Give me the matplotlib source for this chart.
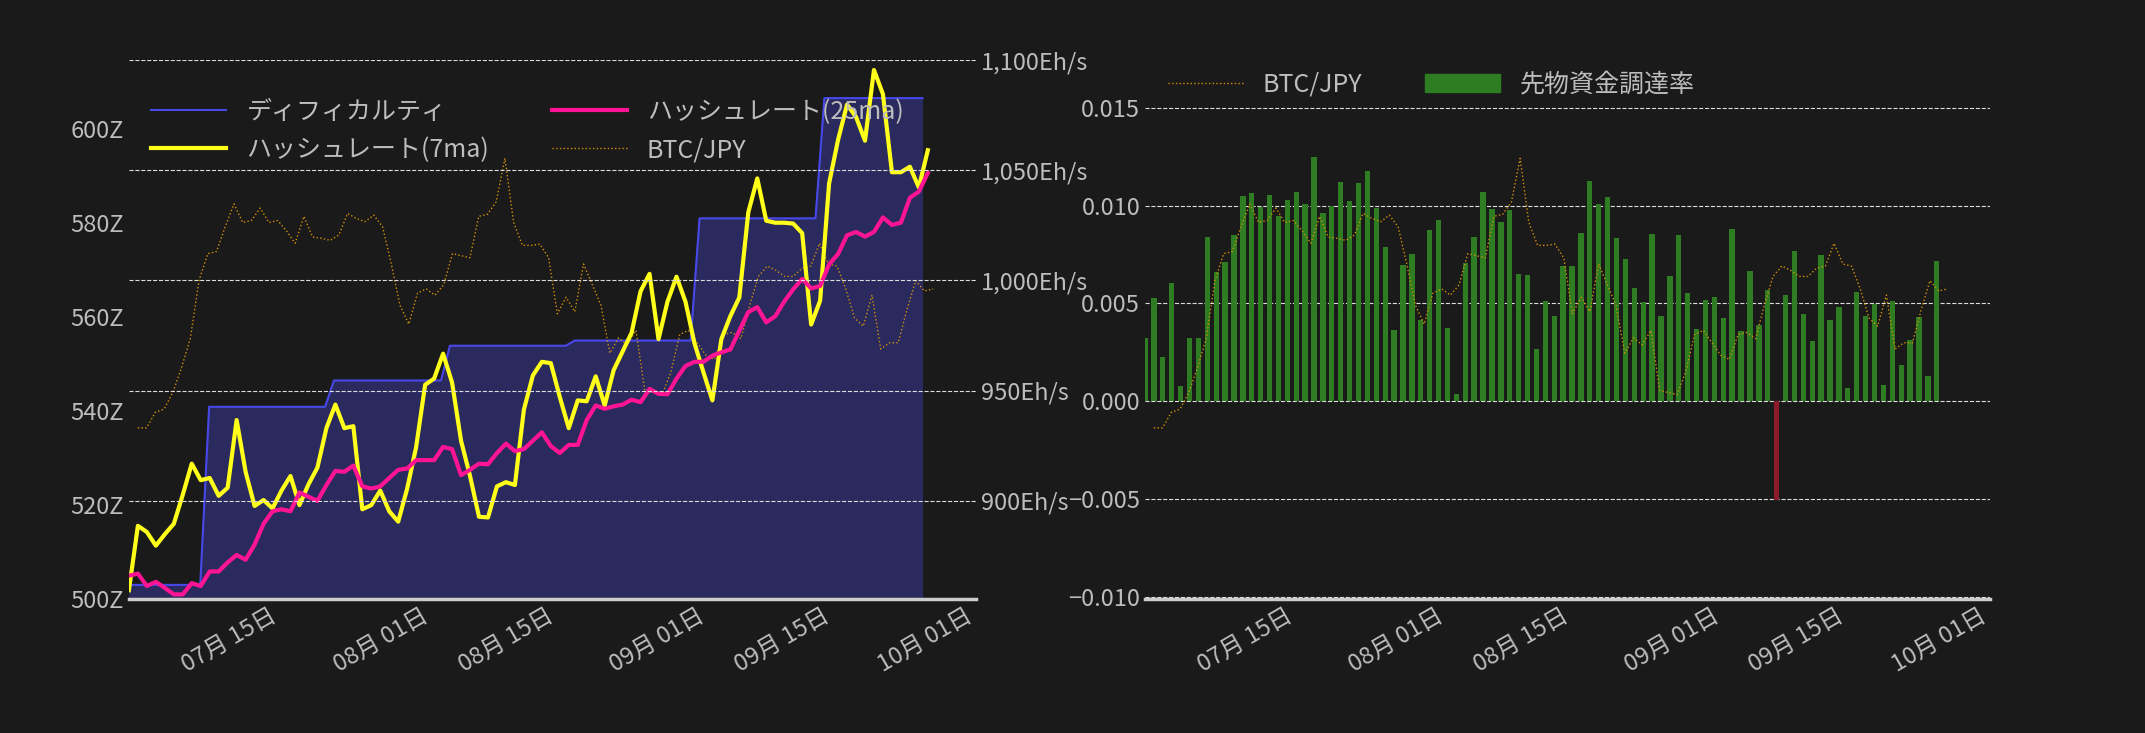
import numpy as np
import pandas as pd
import matplotlib
matplotlib.use("Agg")
import matplotlib.pyplot as plt
import matplotlib.dates as mdates

plt.rcParams['font.family'] = ['Noto Sans CJK JP', 'DejaVu Sans']

# ---------------- data ----------------
start = "2024-06-28"
difficulty_Z = [503]*9 + [540.9]*14 + [546.5]*13 + [553.9]*14 + [555]*14 + [581]*14 + [606.6]*12

hash_7ma = [859.5, 888.7, 885.9, 879.7, 884.9, 889.6, 902.8, 916.9, 909.4, 910.4, 902.3, 906.0, 936.7,
            913.2, 897.7, 900.4, 896.6, 904.7, 911.3, 898.1, 907.5, 915.1, 933, 943.7, 933, 933.9, 896.2,
            898.1, 904.7, 895.3, 890.6, 905.6, 924.5, 952.7, 955.5, 966.8, 953.7, 927.3, 911.3, 892.8, 892.5,
            906.6, 908.5, 907.2, 941.4, 956.9, 963.1, 962.5, 947.1, 933, 945.6, 945.2, 956.5, 943.3, 959.3,
            967.8, 976.3, 995.1, 1003, 973.4, 990.4, 1001.7, 990.4, 971.6, 958.4, 945.6, 973.4, 983.8, 992.3,
            1030.9, 1046.3, 1027.1, 1026.2, 1026.2, 1025.8, 1021.5, 980, 990.8, 1044, 1063.8, 1079.8, 1074.2,
            1063.4, 1095.5, 1084.5, 1049.1, 1049.1, 1051.6, 1042.2, 1059.1]

hash_25ma = [866.1, 867, 861.4, 863.3, 860.5, 857.6, 857.6, 862.7, 861.4, 868, 868, 872.1, 875.5, 873.3,
             880.2, 889.6, 895.3, 896.2, 895.3, 903.8, 901.9, 900, 907.2, 913.6, 913.2, 916, 906.6, 905.6,
             906.6, 910.4, 914.1, 914.7, 918.5, 918.5, 918.5, 924.5, 923.5, 911.7, 914.1, 916.9, 916.6, 921.7,
             926, 922.6, 923.5, 927.3, 931.1, 924.9, 921.7, 925.4, 925.4, 936.7, 943.3, 941.8, 942.9, 943.7,
             945.9, 944.8, 950.8, 948.6, 948.4, 955.5, 961.2, 963.1, 963.1, 965.9, 967.4, 968.7, 977.2, 985.7,
             987.9, 981, 983.8, 990.4, 996, 1000.7, 996.4, 997.5, 1007.3, 1012, 1020.5, 1022, 1019.9, 1022,
             1028.6, 1025.2, 1026.2, 1037.5, 1040.3, 1048.8]

btc_jpy_man = [725, 725, 743.5, 747.5, 767.5, 797.5, 832.5, 902.5, 935, 937.5, 967.5, 995, 972.5, 975, 990,
               972.5, 975, 962.5, 947.5, 980, 955, 953.5, 951, 957.5, 983.5, 977.5, 973.5, 981.5, 967.5, 922.5,
               872.5, 850, 887.5, 892.5, 885, 897.5, 935, 932.5, 930, 980, 982.5, 997.5, 1050, 972.5, 945, 945,
               946.5, 930, 862.5, 882.5, 865, 922.5, 897.5, 872.5, 815, 833.5, 825, 842.5, 770, 767.5, 765,
               792.5, 837.5, 842.5, 827.5, 812.5, 807.5, 837.5, 840, 832.5, 872.5, 907.5, 920, 915, 907.5,
               907.5, 917.5, 920, 947.5, 922.5, 920, 892.5, 857.5, 847.5, 885, 820, 827.5, 827.5, 867.5,
               902.5, 890, 892.5]

funding_rate = [0.00324, 0.00528, 0.00225, 0.00604, 0.00076, 0.00324, 0.00324, 0.00839, 0.00659, 0.0071,
                0.0085, 0.01049, 0.01064, 0.00994, 0.01053, 0.00945, 0.01028, 0.01068, 0.01006, 0.01248,
                0.00962, 0.00998, 0.01119, 0.01023, 0.01114, 0.01176, 0.00987, 0.00788, 0.00362, 0.00695,
                0.00752, 0.00415, 0.00875, 0.00926, 0.00373, 0.0004, 0.00706, 0.00839, 0.01068, 0.00983,
                0.00917, 0.00977, 0.0065, 0.00644, 0.00267, 0.00511, 0.00434, 0.00691, 0.00691, 0.00858,
                0.01125, 0.01008, 0.01042, 0.00833, 0.00727, 0.00578, 0.00506, 0.00854, 0.00434, 0.0064,
                0.0085, 0.00553, 0.00369, 0.00517, 0.00532, 0.00426, 0.00879, 0.00358, 0.00665, 0.00388,
                0.00568, -0.00502, 0.00542, 0.00767, 0.00447, 0.00309, 0.00748, 0.00415, 0.00483, 0.0007,
                0.00557, 0.00436, 0.00496, 0.00081, 0.00511, 0.00186, 0.00314, 0.00432, 0.00129, 0.00716]

xticks = ["2024-07-15", "2024-08-01", "2024-08-15", "2024-09-01", "2024-09-15", "2024-10-01"]

def dates(n, span_days=89.6):
    s = pd.Timestamp(start)
    return [s + pd.Timedelta(days=span_days * i / (n - 1)) for i in range(n)]

d_diff = pd.date_range(start, periods=len(difficulty_Z), freq="D")
d_h7 = dates(len(hash_7ma))
d_h25 = dates(len(hash_25ma))
d_btc = dates(len(btc_jpy_man), 89.2)
d_btc = [d + pd.Timedelta(days=1) for d in d_btc]
d_fr = pd.date_range(start, periods=len(funding_rate), freq="D")

BG = "#1a1a1a"
TXT = "#bdbdbd"
xlim = (pd.Timestamp("2024-06-28"), pd.Timestamp("2024-10-01"))

fig = plt.figure(figsize=(21.45, 7.33), dpi=100, facecolor=BG)

def style(ax):
    ax.set_facecolor("none")
    for s in ("top", "left", "right"):
        ax.spines[s].set_visible(False)
    ax.spines["bottom"].set_color("#cccccc")
    ax.spines["bottom"].set_linewidth(2.5)
    ax.tick_params(axis="both", length=0, colors=TXT, labelsize=17)
    ax.set_xlim(*xlim)
    ax.xaxis.set_major_locator(mdates.DayLocator(bymonthday=[1, 15]))
    ax.set_xticks([pd.Timestamp(t) for t in xticks])
    ax.xaxis.set_major_formatter(mdates.DateFormatter("%m月 %d日"))
    for lab in ax.get_xticklabels():
        lab.set_rotation(30)
        lab.set_ha("right")

# ---------- left chart ----------
ax = fig.add_axes([0.0601, 0.1828, 0.3949, 0.7353])
style(ax)
ax.set_ylim(500, 614.7)
ax.set_yticks([500, 520, 540, 560, 580, 600])
ax.set_yticklabels([f"{v}Z" for v in [500, 520, 540, 560, 580, 600]])
ax.fill_between(d_diff, 0, difficulty_Z, color="#2a2a5e", zorder=1)
l1, = ax.plot(d_diff, difficulty_Z, color="#4848e8", lw=1.5, zorder=2)

ax2 = ax.twinx()
ax2.set_facecolor("none")
for s in ax2.spines.values():
    s.set_visible(False)
ax2.set_ylim(855.5, 1100)
ax2.set_yticks([900, 950, 1000, 1050, 1100])
ax2.set_yticklabels(["900Eh/s", "950Eh/s", "1,000Eh/s", "1,050Eh/s", "1,100Eh/s"])
ax2.tick_params(axis="y", length=0, colors=TXT, labelsize=17)
ax2.grid(axis="y", color="#dddddd", ls="--", lw=0.8)
ax2.set_axisbelow(False)

ax3 = ax.twinx()
ax3.set_ylim(518.5, 1168.5)
ax3.axis("off")
l4, = ax3.plot(d_btc, btc_jpy_man, color="#d4900a", lw=1, ls=":")
l2, = ax2.plot(d_h7, hash_7ma, color="#ffff1a", lw=3)
l3, = ax2.plot(d_h25, hash_25ma, color="#ff1493", lw=3)
ax3.set_zorder(2); ax2.set_zorder(3); ax.set_zorder(1)

leg = ax2.legend([l1, l2, l3, l4], ["ディフィカルティ", "ハッシュレート(7ma)", "ハッシュレート(25ma)", "BTC/JPY"],
                 ncol=2, loc="upper left", bbox_to_anchor=(0.0, 0.97), frameon=False,
                 fontsize=18, labelcolor=TXT, columnspacing=2.5, handlelength=3)

# ---------- right chart ----------
axr = fig.add_axes([0.5338, 0.1828, 0.394, 0.7353])
style(axr)
axr.yaxis.tick_right()
axr.set_ylim(-0.0101, 0.01744)
axr.set_yticks([-0.010, -0.005, 0.0, 0.005, 0.010, 0.015])
axr.set_yticklabels(["\u22120.010", "\u22120.005", "0.000", "0.005", "0.010", "0.015"])
axr.grid(axis="y", color="#dddddd", ls="--", lw=0.8)
axr.set_axisbelow(True)
colors = ["#2e7d22" if v >= 0 else "#8b1a2a" for v in funding_rate]
bars = axr.bar(d_fr, funding_rate, width=0.6, color=colors, zorder=2)

axb = axr.twinx()
axb.set_ylim(518.5, 1168.5)
axb.axis("off")
lb, = axb.plot(d_btc, btc_jpy_man, color="#d4900a", lw=1, ls=":")
import matplotlib.patches as mpatches
axr.legend([lb, mpatches.Patch(color="#2e7d22")], ["BTC/JPY", "先物資金調達率"], ncol=2,
           loc="upper left", bbox_to_anchor=(0.0, 1.02), frameon=False, fontsize=18,
           labelcolor=TXT, columnspacing=2.5, handlelength=3)

fig.savefig("out.png", dpi=100, facecolor=BG)
